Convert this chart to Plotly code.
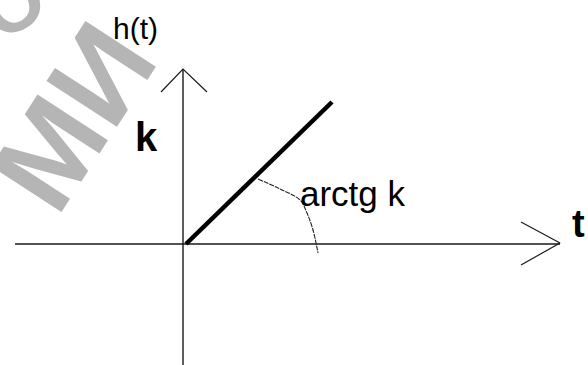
import plotly.graph_objects as go

# Geometry in a math coordinate system (origin at axes crossing)
axis_x_t = [-168, 377]
axis_x_h = [0, 0]
axis_y_t = [0, 0]
axis_y_h = [-123, 175]
arrow_y_t = [-22, 0, 24]
arrow_y_h = [152, 175, 152]
arrow_x_t = [338, 377, 338]
arrow_x_h = [22, 1, -21]
ramp_t = [3, 149]
ramp_h = [0, 142]
arc_t = [75, 97, 117, 124, 130, 135]
arc_h = [65, 55, 44, 31, 14, -9]

labels = ["h(t)", "k", "t", "arctg k"]
label_t = [-48, -37, 395, 115]
label_h = [216, 107, 20, 51]

AX = "#1a1a1a"
fig = go.Figure()
fig.add_trace(go.Scatter(x=axis_x_t, y=axis_x_h, mode="lines", line=dict(color=AX, width=1.4)))
fig.add_trace(go.Scatter(x=axis_y_t, y=axis_y_h, mode="lines", line=dict(color=AX, width=1.4)))
fig.add_trace(go.Scatter(x=arrow_y_t, y=arrow_y_h, mode="lines", line=dict(color=AX, width=1.2)))
fig.add_trace(go.Scatter(x=arrow_x_t, y=arrow_x_h, mode="lines", line=dict(color=AX, width=1.2)))
fig.add_trace(go.Scatter(x=ramp_t, y=ramp_h, mode="lines", line=dict(color="#000000", width=4.5)))
fig.add_trace(go.Scatter(x=arc_t, y=arc_h, mode="lines", line=dict(color="#222222", width=1.1, dash="5px,1px", shape="spline")))

# watermark
WM = "#b5b5b5"
fig.add_annotation(x=-110, y=127, text="<b>МИ</b>", showarrow=False, textangle=-57,
                   font=dict(family="Liberation Sans, Arial", size=122, color=WM))
fig.add_annotation(x=-171, y=240, text="<b>О</b>", showarrow=False, textangle=-30,
                   font=dict(family="Liberation Sans, Arial", size=78, color=WM))

fonts = [dict(size=30, bold=False), dict(size=40, bold=True), dict(size=38, bold=True), dict(size=35, bold=False)]
anchors = ["center", "center", "center", "left"]
for txt, x, y, f, a in zip(labels, label_t, label_h, fonts, anchors):
    fig.add_annotation(x=x, y=y, text=(f"<b>{txt}</b>" if f["bold"] else txt), showarrow=False,
                       xanchor=a, yanchor="middle",
                       font=dict(family="Liberation Sans, Arial", size=f["size"], color="#000000"))

fig.update_layout(width=588, height=365, margin=dict(l=0, r=0, t=0, b=0),
                  paper_bgcolor="white", plot_bgcolor="white", showlegend=False,
                  xaxis=dict(range=[-183, 405], visible=False, fixedrange=True),
                  yaxis=dict(range=[-121, 244], visible=False, fixedrange=True))
fig.write_html("out.html", config={"displayModeBar": False},
               post_script="document.body.style.margin='0';document.body.style.overflow='hidden';")
